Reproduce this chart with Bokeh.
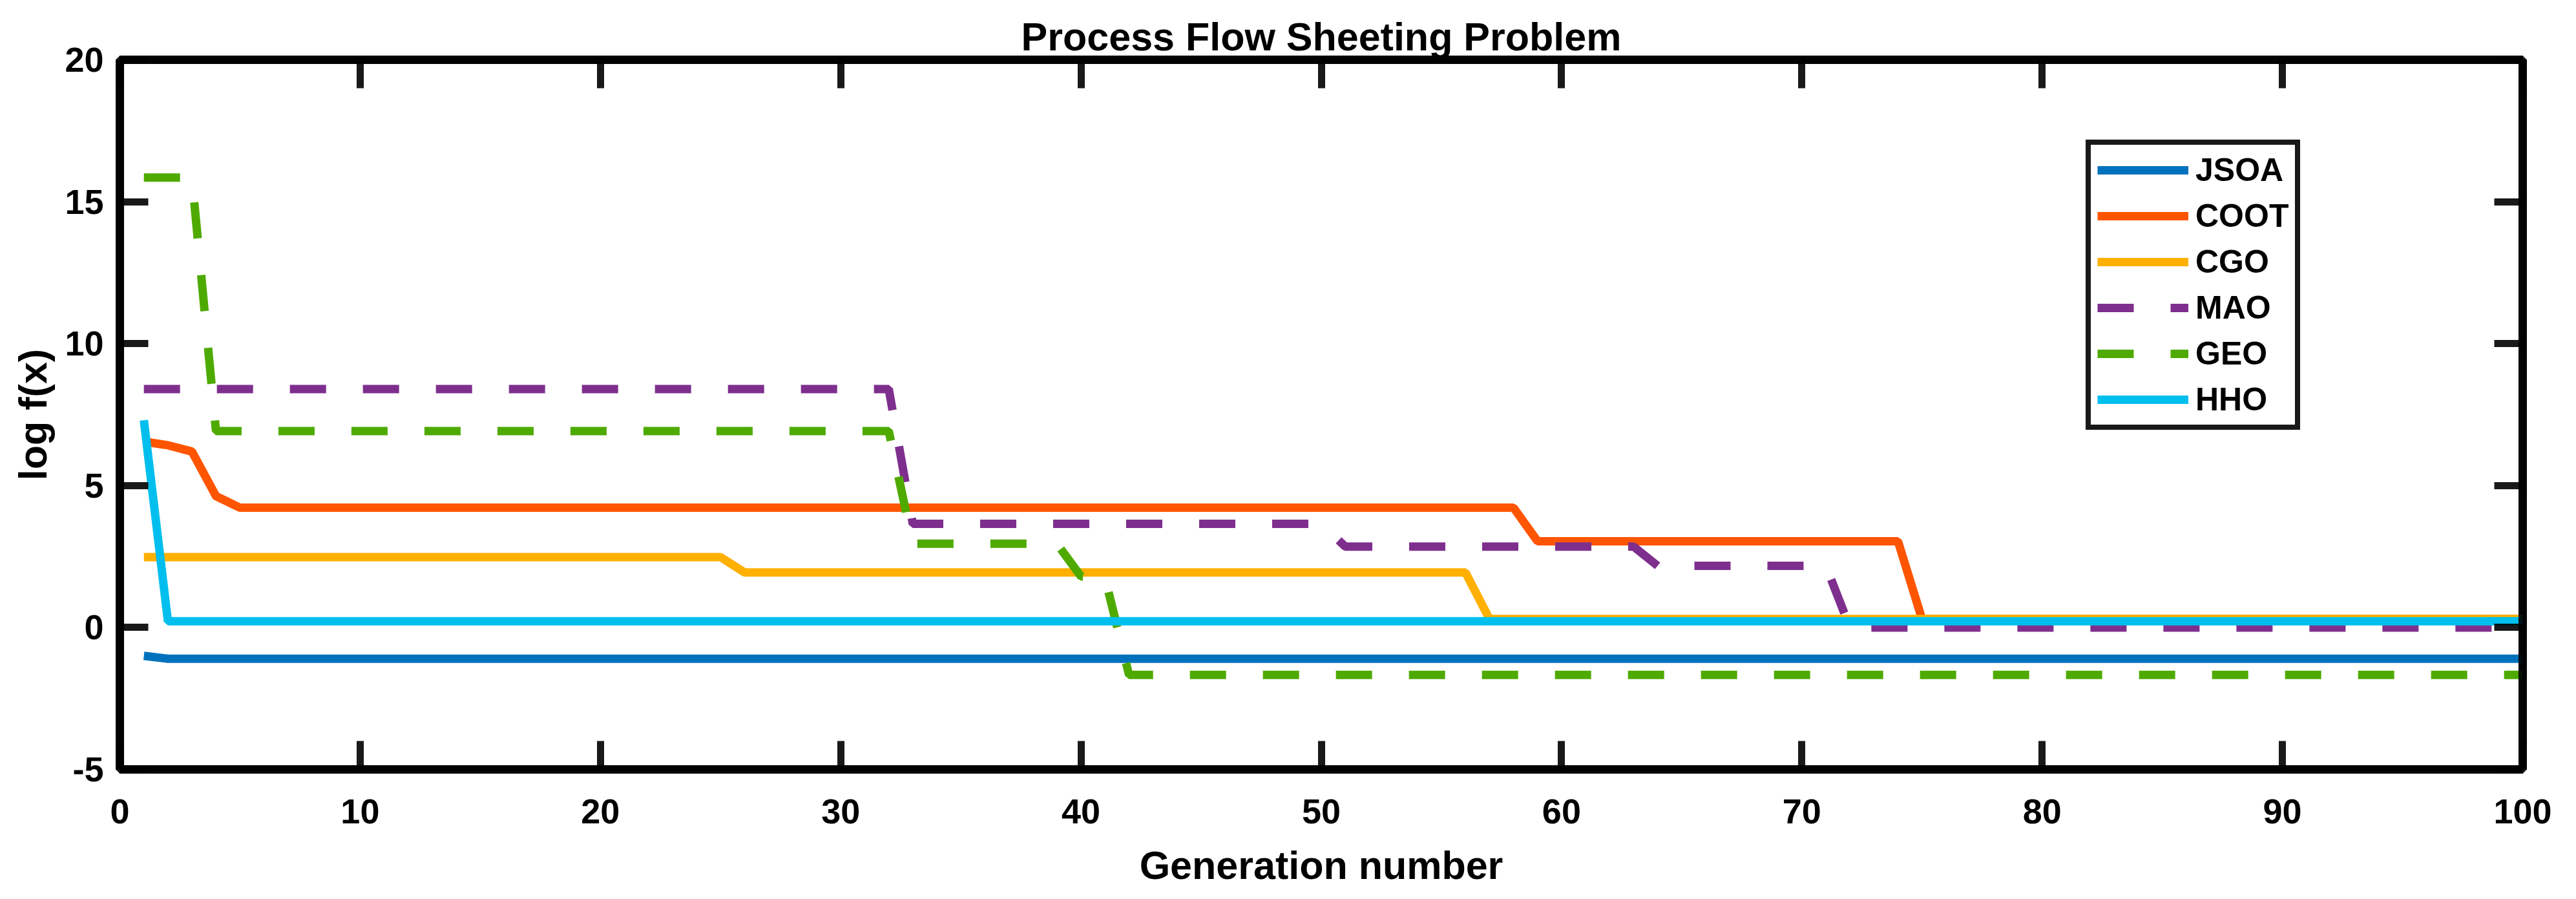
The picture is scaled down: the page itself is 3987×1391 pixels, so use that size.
from bokeh.plotting import figure
from bokeh.models import (Range1d, LinearAxis, Legend, LegendItem, FixedTicker,
                          CustomJSTickFormatter)
from bokeh.embed import file_html
from bokeh.resources import INLINE

# ---- data (generation number vertices and log f(x) values)
names = ["JSOA", "COOT", "CGO", "MAO", "GEO", "HHO"]

jsoa_x = [1, 2, 100]
jsoa_y = [-1.0, -1.1, -1.1]

coot_x = [1, 2, 3, 4, 5, 58, 59, 74, 75, 100]
coot_y = [6.55, 6.42, 6.2, 4.63, 4.22, 4.22, 3.04, 3.04, 0.3, 0.3]

cgo_x = [1, 25, 26, 56, 57, 100]
cgo_y = [2.48, 2.48, 1.94, 1.94, 0.3, 0.3]

mao_x = [1, 32, 33, 50, 51, 63, 64, 71, 72, 100]
mao_y = [8.4, 8.4, 3.65, 3.65, 2.85, 2.85, 2.17, 2.17, 0.0, 0.0]

geo_x = [1, 3, 4, 32, 33, 39, 40, 41, 42, 100]
geo_y = [15.85, 15.85, 6.92, 6.92, 2.95, 2.95, 1.8, 1.75, -1.67, -1.67]

hho_x = [1, 2, 100]
hho_y = [7.3, 0.22, 0.22]

x_ticks = [0, 10, 20, 30, 40, 50, 60, 70, 80, 90, 100]
y_ticks = [-5, 0, 5, 10, 15, 20]

series_x = [jsoa_x, coot_x, cgo_x, mao_x, geo_x, hho_x]
series_y = [jsoa_y, coot_y, cgo_y, mao_y, geo_y, hho_y]

# ---- styles
colors = ["#0072BD", "#FF5500", "#FFB000", "#7E2F8E", "#4FAA00", "#00BFEE"]
dashes = ["solid", "solid", "solid", "56 57", "56 57", "solid"]
FONT = "Liberation Sans"

p = figure(width=3971, height=1375, output_backend="svg", toolbar_location=None,
           x_range=Range1d(0, 100), y_range=Range1d(-5, 20),
           title="Process Flow Sheeting Problem",
           min_border_left=185, min_border_right=67,
           min_border_top=92, min_border_bottom=185)
p.background_fill_color = "white"
p.border_fill_color = "white"
p.xgrid.visible = False
p.ygrid.visible = False
p.outline_line_color = "black"
p.outline_line_width = 13
p.outline_line_alpha = 0.9

p.title.text_font = FONT
p.title.text_font_size = "61px"
p.title.text_font_style = "bold"
p.title.align = "center"
p.title.text_color = "black"
p.title.standoff = 4

plain = CustomJSTickFormatter(code="return tick.toString();")
p.xaxis.ticker = FixedTicker(ticks=x_ticks)
p.yaxis.ticker = FixedTicker(ticks=y_ticks)
p.xaxis.formatter = plain
p.yaxis.formatter = plain
p.xaxis.axis_label = "Generation number"
p.yaxis.axis_label = "log f(x)"
p.xaxis.major_label_standoff = 46
p.yaxis.major_label_standoff = 25
p.xaxis.axis_label_standoff = 28
p.yaxis.axis_label_standoff = 12

def style_axis(ax):
    ax.axis_line_width = 13
    ax.axis_line_color = "black"
    ax.axis_line_alpha = 0.9
    ax.major_tick_in = 44
    ax.major_tick_out = 0
    ax.major_tick_line_width = 11
    ax.major_tick_line_color = "black"
    ax.major_tick_line_alpha = 0.9
    ax.minor_tick_line_color = None
    ax.major_label_text_font = FONT
    ax.major_label_text_font_size = "54px"
    ax.major_label_text_font_style = "bold"
    ax.major_label_text_color = "black"
    ax.axis_label_text_font = FONT
    ax.axis_label_text_font_size = "61px"
    ax.axis_label_text_font_style = "bold"
    ax.axis_label_text_color = "black"

for ax in p.xaxis + p.yaxis:
    style_axis(ax)

blank = CustomJSTickFormatter(code="return '';")
top_ax = LinearAxis(ticker=FixedTicker(ticks=x_ticks), formatter=blank)
right_ax = LinearAxis(ticker=FixedTicker(ticks=y_ticks), formatter=blank)
for ax in (top_ax, right_ax):
    style_axis(ax)
    ax.major_label_standoff = 0
p.add_layout(top_ax, "above")
p.add_layout(right_ax, "right")

items = []
for name, xs, ys, c, d in zip(names, series_x, series_y, colors, dashes):
    r = p.line(xs, ys, line_color=c, line_width=13, line_dash=d)
    items.append(LegendItem(label=name, renderers=[r]))

legend = Legend(items=items, location=(3043, 525))
legend.label_text_font = FONT
legend.label_text_font_size = "50px"
legend.label_text_font_style = "bold"
legend.label_text_color = "black"
legend.glyph_width = 141
legend.glyph_height = 20
legend.label_standoff = 11
legend.spacing = 13
legend.padding = 10
legend.margin = 0
legend.border_line_color = "black"
legend.border_line_width = 8
legend.border_line_alpha = 0.9
legend.background_fill_color = "white"
legend.background_fill_alpha = 1.0
p.add_layout(legend)

open("out.html", "w").write(file_html(p, INLINE))
